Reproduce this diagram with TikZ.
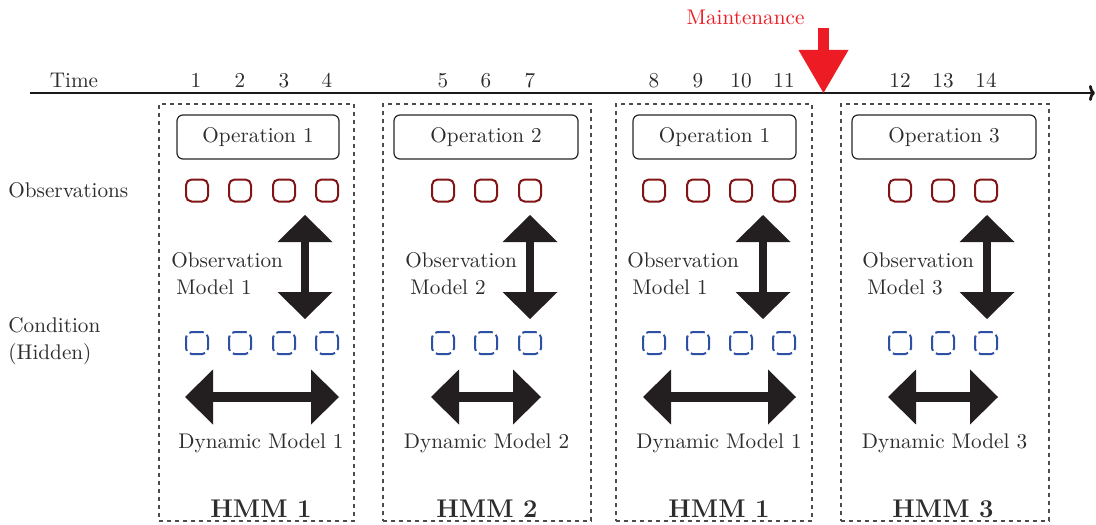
\documentclass[tikz,border=0pt]{standalone}
\usetikzlibrary{arrows.meta}
\definecolor{obsred}{RGB}{130,20,22}
\definecolor{hidblue}{RGB}{45,80,165}
\definecolor{mred}{RGB}{237,28,36}
\definecolor{txt}{RGB}{45,45,45}
\definecolor{arrblk}{RGB}{35,31,32}
\begin{document}
\begin{tikzpicture}[x=0.5pt,y=-0.5pt,
  font=\fontsize{10.6}{13.5}\selectfont,
  lbl/.style={inner sep=0pt,text=txt},
  hmmbox/.style={draw=black!70,line width=0.7pt,dash pattern=on 2pt off 2pt,inner sep=0pt},
  opbox/.style={draw=black!85,rounded corners=3pt,line width=0.6pt,minimum height=22pt,inner sep=0pt,text=txt},
  obs/.style={draw=obsred,line width=1pt,rounded corners=2.8pt,minimum size=11pt,inner sep=0pt},
  hid/.style={draw=hidblue,line width=1pt,dash pattern=on 7.8pt off 2pt,dash phase=1.2pt,rounded corners=2.8pt,minimum size=11pt,inner sep=0pt},
  vdbl/.style={draw=arrblk,line width=4pt,{Triangle[length=13.5pt,width=27.5pt,line width=0pt]}-{Triangle[length=13.5pt,width=27.5pt,line width=0pt]}},
  hdbl/.style={draw=arrblk,line width=5pt,{Triangle[length=14pt,width=27.5pt,line width=0pt]}-{Triangle[length=14pt,width=27.5pt,line width=0pt]}},
  hmmlbl/.style={lbl,font=\fontsize{12.8}{15}\selectfont\bfseries,anchor=base}
]
\useasboundingbox (0,0) rectangle (1096,524);

% time axis
\coordinate (axs) at (30,93);
\coordinate (axe) at (1095,93);
\draw[line width=1.4pt,draw=black!90,-{To[length=3pt,width=8pt]}] (axs) -- (axe);
\node[lbl,anchor=base] (time) at (74,88) {Time};
\foreach \x [count=\i] in {196,240,284,327,443,486,530,654,698,741,784,900,943,986}
  \node[lbl,anchor=base] (t\i) at (\x,88) {\i};

% maintenance
\node[lbl,text=mred,anchor=base] (maint) at (745.5,25) {Maintenance};
\coordinate (ms) at (823.5,28);
\coordinate (mt) at (823.5,93);
\draw[draw=mred,line width=5.5pt,-{Triangle[length=21.5pt,width=25pt,line width=0pt]}] (ms) -- (mt);

% left labels
\node[lbl,anchor=base west] (obslbl) at (8,197) {Observations};
\node[lbl,anchor=base west,align=left] (condlbl) at (8,359) {Condition\\(Hidden)};

% HMM boxes
\node[hmmbox,minimum width=97.5pt,minimum height=208.5pt] (b1) at (256.5,312.5) {};
\node[hmmbox,minimum width=104pt,minimum height=208.5pt] (b2) at (487,312.5) {};
\node[hmmbox,minimum width=98pt,minimum height=208.5pt] (b3) at (714,312.5) {};
\node[hmmbox,minimum width=104pt,minimum height=208.5pt] (b4) at (945,312.5) {};

% operation boxes
\node[opbox,minimum width=81pt] (op1) at (258,137) {Operation 1};
\node[opbox,minimum width=92pt] (op2) at (486,137) {Operation 2};
\node[opbox,minimum width=81.5pt] (op3) at (714.5,137) {Operation 1};
\node[opbox,minimum width=92pt] (op4) at (944,137) {Operation 3};

% observation and hidden squares
\foreach \x [count=\i] in {197,240,284,327} {
  \node[obs] (o1\i) at (\x,190.5) {};
  \node[hid] (h1\i) at (\x,343) {};
}
\foreach \x [count=\i] in {443,486,530} {
  \node[obs] (o2\i) at (\x,190.5) {};
  \node[hid] (h2\i) at (\x,343) {};
}
\foreach \x [count=\i] in {654,698,741,784} {
  \node[obs] (o3\i) at (\x,190.5) {};
  \node[hid] (h3\i) at (\x,343) {};
}
\foreach \x [count=\i] in {900,943,986} {
  \node[obs] (o4\i) at (\x,190.5) {};
  \node[hid] (h4\i) at (\x,343) {};
}

% observation models
\coordinate (v1t) at (305,215); \coordinate (v1b) at (305,319);
\coordinate (v2t) at (530,215); \coordinate (v2b) at (530,319);
\coordinate (v3t) at (763,215); \coordinate (v3b) at (763,319);
\coordinate (v4t) at (987,215); \coordinate (v4b) at (987,319);
\draw[vdbl] (v1t) -- (v1b);
\draw[vdbl] (v2t) -- (v2b);
\draw[vdbl] (v3t) -- (v3b);
\draw[vdbl] (v4t) -- (v4b);
\node[lbl,anchor=base west,align=left] (om1) at (171,294) {Observation\\\hspace*{2.5pt}Model 1};
\node[lbl,anchor=base west,align=left] (om2) at (405,294) {Observation\\\hspace*{2.5pt}Model 2};
\node[lbl,anchor=base west,align=left] (om3) at (627,294) {Observation\\\hspace*{2.5pt}Model 1};
\node[lbl,anchor=base west,align=left] (om4) at (862,294) {Observation\\\hspace*{2.5pt}Model 3};

% dynamic models
\coordinate (d1l) at (185,397); \coordinate (d1r) at (339,397);
\coordinate (d2l) at (431,397); \coordinate (d2r) at (541,397);
\coordinate (d3l) at (643,397); \coordinate (d3r) at (796,397);
\coordinate (d4l) at (888,397); \coordinate (d4r) at (998,397);
\draw[hdbl] (d1l) -- (d1r);
\draw[hdbl] (d2l) -- (d2r);
\draw[hdbl] (d3l) -- (d3r);
\draw[hdbl] (d4l) -- (d4r);
\node[lbl,anchor=base] (dm1) at (261,448) {Dynamic Model 1};
\node[lbl,anchor=base] (dm2) at (486.5,448) {Dynamic Model 2};
\node[lbl,anchor=base] (dm3) at (719,448) {Dynamic Model 1};
\node[lbl,anchor=base] (dm4) at (944.5,448) {Dynamic Model 3};

% HMM labels
\node[hmmlbl] (hmm1) at (261,517) {HMM 1};
\node[hmmlbl] (hmm2) at (487,517) {HMM 2};
\node[hmmlbl] (hmm3) at (719,517) {HMM 1};
\node[hmmlbl] (hmm4) at (943,517) {HMM 3};
\end{tikzpicture}
\end{document}
